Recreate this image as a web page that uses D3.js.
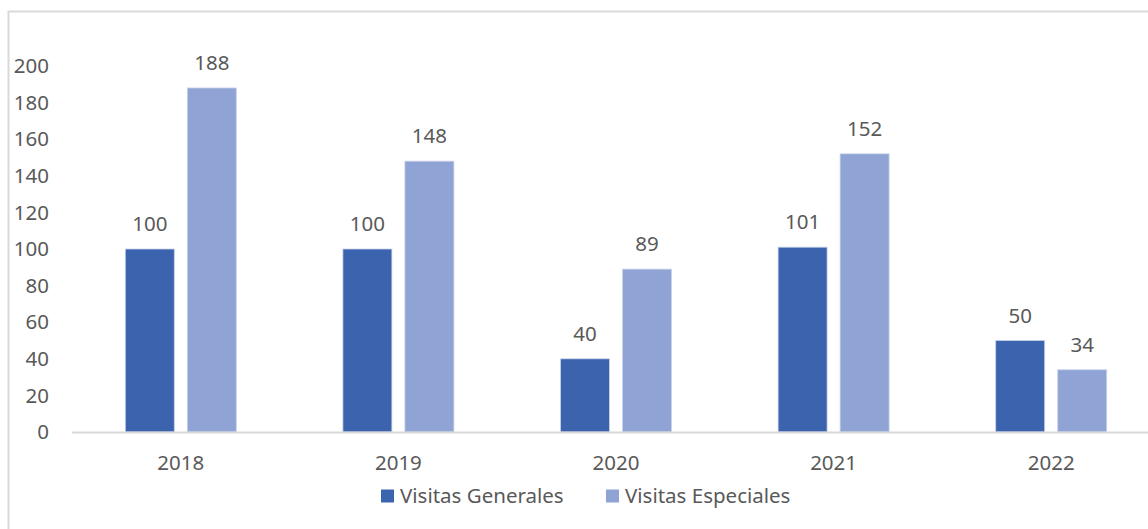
<!DOCTYPE html>
<html>
<head>
<meta charset="utf-8">
<script src="https://cdn.jsdelivr.net/npm/d3@7"></script>
<style>
  body { margin: 0; background: #fff; }
  svg { display: block; font-family: "Noto Sans", "Open Sans", sans-serif; }
  .lbl { fill: #595959; font-size: 20.5px; }
</style>
</head>
<body>
<div id="chart"></div>
<script>
// data
const years = ["2018", "2019", "2020", "2021", "2022"];
const generales = [100, 100, 40, 101, 50];
const especiales = [188, 148, 89, 152, 34];
const seriesNames = ["Visitas Generales", "Visitas Especiales"];
const yTicks = [0, 20, 40, 60, 80, 100, 120, 140, 160, 180, 200];

// styling
const width = 1148, height = 529;
const colors = ["#3c64ae", "#8fa4d4"];
const gridColor = "#d9d9d9";

const svg = d3.select("#chart").append("svg")
    .attr("width", width)
    .attr("height", height);

// outer chart border (cropped on right/bottom)
svg.append("rect")
    .attr("x", 8.5).attr("y", 11.5)
    .attr("width", 1160).attr("height", 540)
    .attr("fill", "none")
    .attr("stroke", gridColor)
    .attr("stroke-width", 2);

const x = d3.scaleBand()
    .domain(years)
    .range([72, 1160]);

const inner = d3.scaleBand()
    .domain(seriesNames)
    .range([x.bandwidth() / 2 - 55.5, x.bandwidth() / 2 + 55.5])
    .paddingInner(0.21);

const y = d3.scaleLinear()
    .domain([0, 200])
    .range([432, 66]);

// y tick labels
svg.append("g").selectAll("text")
    .data(yTicks)
    .join("text")
    .attr("class", "lbl")
    .attr("x", 49)
    .attr("y", d => y(d))
    .attr("dy", "0.35em")
    .attr("text-anchor", "end")
    .text(d => d);

const series = [generales, especiales];

const groups = svg.append("g").selectAll("g")
    .data(years)
    .join("g")
    .attr("transform", d => `translate(${x(d)},0)`);

groups.selectAll("rect")
    .data((d, i) => series.map((s, k) => ({name: seriesNames[k], v: s[i], k})))
    .join("rect")
    .attr("x", d => inner(d.name))
    .attr("y", d => y(d.v))
    .attr("width", inner.bandwidth())
    .attr("height", d => y(0) - y(d.v))
    .attr("fill", d => colors[d.k])
    .attr("stroke", "#c9d3ea")
    .attr("stroke-width", 0.8);

groups.selectAll("text.val")
    .data((d, i) => series.map((s, k) => ({name: seriesNames[k], v: s[i], k})))
    .join("text")
    .attr("class", "lbl val")
    .attr("x", d => inner(d.name) + inner.bandwidth() / 2)
    .attr("y", d => y(d.v) - 18)
    .attr("text-anchor", "middle")
    .text(d => d.v);

// x axis line
svg.append("line")
    .attr("x1", 72).attr("x2", 1160)
    .attr("y1", y(0) + 0.5).attr("y2", y(0) + 0.5)
    .attr("stroke", gridColor)
    .attr("stroke-width", 2);

// x labels
groups.append("text")
    .attr("class", "lbl")
    .attr("x", x.bandwidth() / 2)
    .attr("y", 463)
    .attr("dy", "0.35em")
    .attr("text-anchor", "middle")
    .text(d => d);

// legend
const legendX = [381, 606];
const legend = svg.append("g").selectAll("g")
    .data(seriesNames)
    .join("g")
    .attr("transform", (d, i) => `translate(${legendX[i]},496)`);

legend.append("rect")
    .attr("x", 0).attr("y", -6.5)
    .attr("width", 13).attr("height", 13)
    .attr("fill", (d, i) => colors[i]);

legend.append("text")
    .attr("class", "lbl")
    .attr("x", 19)
    .attr("dy", "0.35em")
    .text(d => d);
</script>
</body>
</html>
